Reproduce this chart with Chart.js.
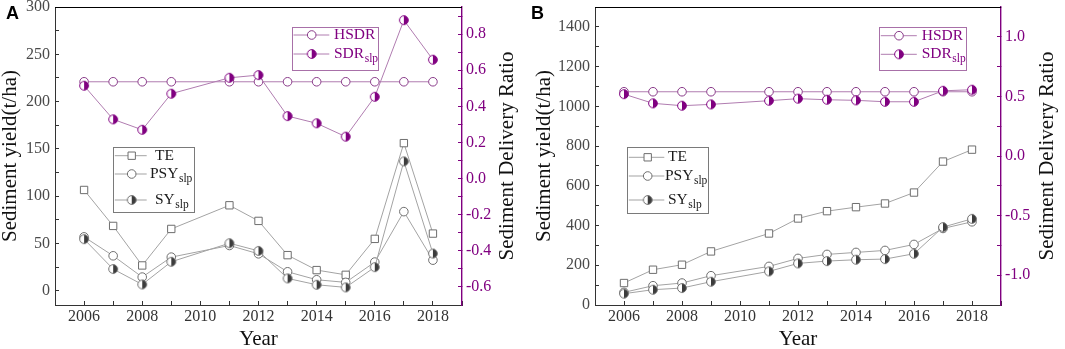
<!DOCTYPE html>
<html>
<head>
<meta charset="utf-8">
<script src="https://cdn.jsdelivr.net/npm/chart.js@4.4.1/dist/chart.umd.min.js"></script>
<style>
  body { margin: 0; background: #fff; }
  #wrap { position: relative; width: 1065px; height: 349px; overflow: hidden; }
  canvas { position: absolute; top: 0; }
  .tag { position: absolute; top: 3.6px; font: bold 18px "Liberation Sans", Arial, sans-serif; line-height: 18px; color: #000; }
</style>
</head>
<body>
<div id="wrap">
  <canvas id="chartA" width="532" height="349" style="left:0"></canvas>
  <canvas id="chartB" width="533" height="349" style="left:532px"></canvas>
  <div class="tag" style="left:6px">A</div>
  <div class="tag" style="left:531px">B</div>
</div>
<script>
// years sampled (no 2010 survey)
const years = [2006, 2007, 2008, 2009, 2011, 2012, 2013, 2014, 2015, 2016, 2017, 2018];
const yearTicks = [2006, 2008, 2010, 2012, 2014, 2016, 2018];

// panel A
const teA = [106.6, 68.6, 26.8, 65.4, 90.4, 73.9, 37.7, 21.9, 16.9, 54.9, 156.1, 60.5];
const psyA = [57.0, 37.0, 14.5, 35.6, 47.9, 39.1, 20.1, 11.7, 8.9, 30.4, 83.7, 32.4];
const syA = [54.6, 23.0, 6.7, 30.7, 50.3, 42.2, 13.1, 6.4, 3.6, 25.0, 136.8, 39.4];
const hsdrA = [0.536, 0.536, 0.536, 0.536, 0.536, 0.536, 0.536, 0.536, 0.536, 0.536, 0.536, 0.536];
const sdrA = [0.514, 0.328, 0.270, 0.470, 0.558, 0.573, 0.346, 0.306, 0.232, 0.453, 0.877, 0.658];
const yieldTicksA = [0, 50, 100, 150, 200, 250, 300];
const ratioTicksA = [-0.6, -0.4, -0.2, 0.0, 0.2, 0.4, 0.6, 0.8];

// panel B
const teB = [110.6, 177.6, 202.7, 269.7, 360.0, 435.5, 472.4, 492.5, 510.9, 566.0, 722.0, 782.0];
const psyB = [63.7, 97.0, 110.6, 147.4, 194.3, 234.5, 254.6, 264.7, 274.7, 304.9, 385.3, 418.8];
const syB = [57.0, 77.0, 85.4, 117.3, 169.2, 209.4, 221.1, 227.8, 231.2, 258.0, 392.0, 433.8];
const hsdrB = [0.539, 0.539, 0.539, 0.539, 0.539, 0.539, 0.539, 0.539, 0.539, 0.539, 0.539, 0.539];
const sdrB = [0.519, 0.442, 0.422, 0.433, 0.464, 0.481, 0.472, 0.467, 0.455, 0.455, 0.547, 0.556];
const yieldTicksB = [0, 200, 400, 600, 800, 1000, 1200, 1400];
const ratioTicksB = [-1.0, -0.5, 0.0, 0.5, 1.0];

const SERIF = '"Liberation Serif", "Times New Roman", serif';
const PURPLE = '#800080';
const GRAY_MK = '#6e6e6e';

Chart.defaults.font.family = SERIF;

// major ticks plus a minor tick halfway between, clipped to the axis range
function withMinors(majors, lo, hi) {
  const step = majors[1] - majors[0];
  const vals = majors.slice();
  majors.forEach(v => {
    [v - step / 2, v + step / 2].forEach(m => {
      if (m >= lo - 1e-9 && m <= hi + 1e-9 && !vals.some(u => Math.abs(u - m) < 1e-9)) vals.push(m);
    });
  });
  return vals.sort((a, b) => a - b);
}

function isMajor(majors, v) {
  return majors.some(m => Math.abs(m - v) < 1e-9);
}

function halfMarker(fill, stroke) {
  const c = document.createElement('canvas');
  c.width = 12; c.height = 12;
  const g = c.getContext('2d');
  g.beginPath(); g.arc(6, 6, 4.4, 0, Math.PI * 2); g.fillStyle = '#fff'; g.fill();
  g.beginPath(); g.arc(6, 6, 4.4, -Math.PI / 2, Math.PI / 2); g.closePath(); g.fillStyle = fill; g.fill();
  g.beginPath(); g.arc(6, 6, 4.4, 0, Math.PI * 2); g.strokeStyle = stroke; g.lineWidth = 1; g.stroke();
  return c;
}

const points = vals => years.map((x, i) => ({ x, y: vals[i] }));

// legend boxes drawn inside the plot, with subscripts
const panelLegend = {
  id: 'panelLegend',
  afterDatasetsDraw(chart, args, opts) {
    const ctx = chart.ctx;
    (opts.boxes || []).forEach(b => {
      ctx.save();
      ctx.fillStyle = '#fff';
      ctx.fillRect(b.x, b.y, b.w, b.h);
      ctx.strokeStyle = b.border;
      ctx.lineWidth = 1;
      ctx.strokeRect(Math.round(b.x) + 0.5, Math.round(b.y) + 0.5, Math.round(b.w), Math.round(b.h));
      b.rows.forEach(r => {
        const ds = chart.data.datasets.find(d => d.key === r.key);
        const y = b.y + r.dy;
        ctx.strokeStyle = ds.borderColor;
        ctx.lineWidth = 1;
        ctx.beginPath();
        ctx.moveTo(b.x + 1.5, y);
        ctx.lineTo(b.x + b.lineEnd, y);
        ctx.stroke();
        ctx.fillStyle = ds.pointBackgroundColor;
        ctx.strokeStyle = ds.pointBorderColor;
        Chart.helpers.drawPoint(ctx, { pointStyle: ds.pointStyle, radius: ds.pointRadius, borderWidth: 1, rotation: 0 }, b.x + b.markerX, y);
        ctx.fillStyle = b.textColor;
        ctx.textAlign = 'left';
        ctx.textBaseline = 'middle';
        ctx.font = '15.5px ' + SERIF;
        const tx = b.x + r.dx;
        ctx.fillText(ds.main, tx, y);
        if (ds.sub) {
          const w = ctx.measureText(ds.main).width;
          ctx.font = '11.5px ' + SERIF;
          ctx.fillText(ds.sub, tx + w + 0.5, y + 5);
        }
      });
      ctx.restore();
    });
  }
};

// top frame line and right-hand title (reads bottom to top)
const frameExtras = {
  id: 'frameExtras',
  afterDraw(chart, args, opts) {
    const { ctx, chartArea } = chart;
    ctx.save();
    ctx.strokeStyle = '#000';
    ctx.lineWidth = 1;
    ctx.beginPath();
    ctx.moveTo(chartArea.left, Math.round(chartArea.top) + 0.5);
    ctx.lineTo(chartArea.right, Math.round(chartArea.top) + 0.5);
    ctx.stroke();
    ctx.translate(chartArea.right + opts.rightTitleOffset, (chartArea.top + chartArea.bottom) / 2);
    ctx.rotate(-Math.PI / 2);
    ctx.font = '21px ' + SERIF;
    ctx.fillStyle = '#111';
    ctx.textAlign = 'center';
    ctx.textBaseline = 'middle';
    ctx.fillText('Sediment Delivery Ratio', 0, 0);
    ctx.restore();
  }
};

function makeChart(id, p) {
  const half = {
    sy: halfMarker('#3c3c3c', GRAY_MK),
    sdr: halfMarker(PURPLE, PURPLE)
  };
  const grayLine = '#a3a3a3';
  const purpleLine = '#b07cb0';
  // first dataset is drawn on top
  const datasets = [
    { key: 'sdr', main: 'SDR', sub: 'slp', data: points(p.sdr), yAxisID: 'y2', borderColor: purpleLine,
      pointStyle: half.sdr, pointRadius: 4.4, pointBackgroundColor: PURPLE, pointBorderColor: PURPLE },
    { key: 'hsdr', main: 'HSDR', sub: '', data: points(p.hsdr), yAxisID: 'y2', borderColor: purpleLine,
      pointStyle: 'circle', pointRadius: 4.3, pointBackgroundColor: '#fff', pointBorderColor: '#8a3c8a' },
    { key: 'sy', main: 'SY', sub: 'slp', data: points(p.sy), yAxisID: 'y', borderColor: grayLine,
      pointStyle: half.sy, pointRadius: 4.4, pointBackgroundColor: '#3c3c3c', pointBorderColor: GRAY_MK },
    { key: 'psy', main: 'PSY', sub: 'slp', data: points(p.psy), yAxisID: 'y', borderColor: grayLine,
      pointStyle: 'circle', pointRadius: 4.3, pointBackgroundColor: '#fff', pointBorderColor: GRAY_MK },
    { key: 'te', main: 'TE', sub: '', data: points(p.te), yAxisID: 'y', borderColor: grayLine,
      pointStyle: 'rect', pointRadius: 5.2, pointBackgroundColor: '#fff', pointBorderColor: GRAY_MK }
  ];
  datasets.forEach(d => { d.borderWidth = 1; d.pointBorderWidth = 1; d.tension = 0; d.fill = false; });

  const xVals = withMinors(yearTicks, 2005, 2019);
  const yVals = withMinors(p.yieldTicks, p.yMin, p.yMax);
  const rVals = withMinors(p.ratioTicks, p.rMin, p.rMax);

  return new Chart(document.getElementById(id), {
    type: 'line',
    data: { datasets },
    options: {
      responsive: false,
      animation: false,
      events: [],
      layout: { padding: { top: 7, left: 0, right: 0, bottom: 0 } },
      plugins: {
        legend: { display: false },
        tooltip: { enabled: false },
        panelLegend: { boxes: p.legends },
        frameExtras: { rightTitleOffset: p.rightTitleOffset }
      },
      scales: {
        x: {
          type: 'linear', position: 'bottom', min: 2005, max: 2019,
          afterBuildTicks: s => { s.ticks = xVals.map(value => ({ value })); },
          afterFit: s => { s.height = 44; s.paddingLeft = 0; s.paddingRight = 0; },
          border: { color: '#333', width: 1 },
          grid: { drawOnChartArea: false, drawTicks: true, tickLength: -4, tickColor: '#333' },
          ticks: {
            autoSkip: false, maxRotation: 0, padding: 6.4, color: '#333',
            font: { size: 16 },
            callback: v => isMajor(yearTicks, v) ? String(v) : ''
          },
          title: { display: true, text: 'Year', color: '#111', padding: 0,
                   font: { size: 21, lineHeight: 0.93 } }
        },
        y: {
          type: 'linear', position: 'left', min: p.yMin, max: p.yMax,
          afterBuildTicks: s => { s.ticks = yVals.map(value => ({ value })); },
          afterFit: s => { s.width = p.leftWidth; s.paddingTop = 0; s.paddingBottom = 0; },
          border: { color: '#333', width: 1 },
          grid: { drawOnChartArea: false, drawTicks: true, tickLength: -4, tickColor: '#333' },
          ticks: {
            autoSkip: false, padding: 9, color: '#4a4a4a',
            font: { size: 16 },
            callback: v => isMajor(p.yieldTicks, v) ? String(Math.round(v)) : ''
          },
          title: { display: true, text: 'Sediment yield(t/ha)', color: '#111',
                   padding: { top: p.leftTitlePad, bottom: 0 },
                   font: { size: 21, lineHeight: 1.0 } }
        },
        y2: {
          type: 'linear', position: 'right', min: p.rMin, max: p.rMax,
          afterBuildTicks: s => { s.ticks = rVals.map(value => ({ value })); },
          afterFit: s => { s.width = p.rightWidth; s.paddingTop = 0; s.paddingBottom = 0; },
          border: { color: PURPLE, width: 1.4 },
          grid: { drawOnChartArea: false, drawTicks: true, tickLength: -4, tickColor: PURPLE },
          ticks: {
            autoSkip: false, padding: 8, color: PURPLE,
            font: { size: 16 },
            callback: v => isMajor(p.ratioTicks, v) ? v.toFixed(1) : ''
          }
        }
      }
    },
    plugins: [panelLegend, frameExtras]
  });
}

makeChart('chartA', {
  te: teA, psy: psyA, sy: syA, hsdr: hsdrA, sdr: sdrA,
  yMin: -15, yMax: 300, yieldTicks: yieldTicksA,
  rMin: -0.7, rMax: 0.95, ratioTicks: ratioTicksA,
  leftWidth: 55, rightWidth: 70, leftTitlePad: 0, rightTitleOffset: 45.4,
  legends: [
    { x: 113.3, y: 147.3, w: 81, h: 65.4, border: '#7a7a7a', textColor: '#1a1a1a', markerX: 18.4, lineEnd: 33.4,
      rows: [{ key: 'te', dy: 8.4, dx: 41.7 }, { key: 'psy', dy: 26.7, dx: 36.7 }, { key: 'sy', dy: 52.7, dx: 41.7 }] },
    { x: 292, y: 26.7, w: 86, h: 42.6, border: '#a870a8', textColor: PURPLE, markerX: 19.7, lineEnd: 37.3,
      rows: [{ key: 'hsdr', dy: 8.3, dx: 42 }, { key: 'sdr', dy: 27.3, dx: 42 }] }
  ]
});

makeChart('chartB', {
  te: teB, psy: psyB, sy: syB, hsdr: hsdrB, sdr: sdrB,
  yMin: 0, yMax: 1500, yieldTicks: yieldTicksB,
  rMin: -1.25, rMax: 1.25, ratioTicks: ratioTicksB,
  leftWidth: 63, rightWidth: 64, leftTitlePad: 1.5, rightTitleOffset: 46.5,
  legends: [
    { x: 95.3, y: 147.3, w: 81, h: 66, border: '#7a7a7a', textColor: '#1a1a1a', markerX: 20.4, lineEnd: 37,
      rows: [{ key: 'te', dy: 10, dx: 40.7 }, { key: 'psy', dy: 28.7, dx: 37.7 }, { key: 'sy', dy: 52.7, dx: 40.7 }] },
    { x: 347.3, y: 26.7, w: 86.7, h: 42.6, border: '#a870a8', textColor: PURPLE, markerX: 19.7, lineEnd: 37.5,
      rows: [{ key: 'hsdr', dy: 9, dx: 42.4 }, { key: 'sdr', dy: 27.6, dx: 42.4 }] }
  ]
});
</script>
</body>
</html>
